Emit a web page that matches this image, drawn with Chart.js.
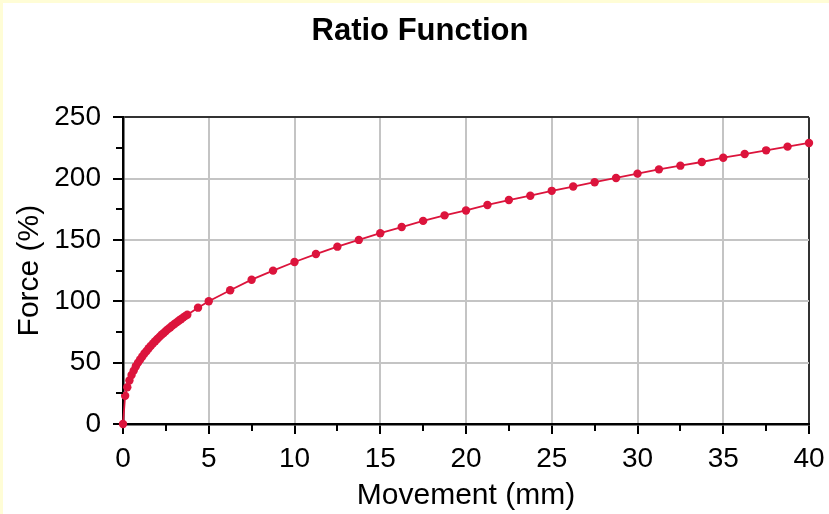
<!DOCTYPE html>
<html lang="en">
<head>
  <meta charset="UTF-8">
  <title>Ratio Function</title>
  <style>
    body {
      margin: 0;
      background: #fffdd6;
    }
    .chart-box {
      position: absolute;
      left: 3px;
      top: 3px;
      width: 826px;
      height: 511px;
      background: #ffffff;
    }
  </style>
</head>
<body>

<div class="chart-box">
  <canvas id="ratioChart"></canvas>
</div>

<script src="https://cdn.jsdelivr.net/npm/chart.js"></script>

<script>
  // Movement (mm) of each measured point
  var movement = [
    0, 0.125, 0.25, 0.375, 0.5, 0.625, 0.75, 0.875, 1, 1.125, 1.25, 1.375, 1.5,
    1.625, 1.75, 1.875, 2, 2.125, 2.25, 2.375, 2.5, 2.625, 2.75, 2.875, 3,
    3.125, 3.25, 3.375, 3.5, 3.625, 3.75, 4.375,
    5, 6.25, 7.5, 8.75, 10, 11.25, 12.5, 13.75, 15, 16.25, 17.5, 18.75, 20,
    21.25, 22.5, 23.75, 25, 26.25, 27.5, 28.75, 30, 31.25, 32.5, 33.75, 35,
    36.25, 37.5, 38.75, 40
  ];

  // Force (%) at each movement
  var force = [
    0, 23, 30, 35.5, 40, 43.5, 47, 50, 52.5, 55, 57.5, 59.5, 61.8,
    63.7, 65.7, 67.5, 69.3, 71, 72.7, 74.2, 75.8, 77.3, 78.7, 80.2, 81.5,
    82.8, 84.1, 85.4, 86.7, 87.9, 89.1, 94.8,
    100, 109, 117.6, 125, 132, 138.5, 144.5, 150, 155.5, 160.5, 165.5, 170, 174,
    178.5, 182.5, 186, 190, 193.5, 197, 200.5, 204, 207.5, 210.5, 213.5, 217,
    220, 223, 226, 229
  ];

  // Small unlabeled ticks between the labeled ones
  var xMinorTicks = [2.5, 7.5, 12.5, 17.5, 22.5, 27.5, 32.5, 37.5];
  var yMinorTicks = [25, 75, 125, 175, 225];

  var lineColor = '#dc143c';
  var fontFamily = '"Liberation Sans", Arial, sans-serif';

  var points = movement.map(function(m, i) {
    return { x: m, y: force[i] };
  });

  // short tick marks halfway between the major ticks
  var minorTickPlugin = {
    id: 'minorTicks',
    afterDraw: function(chart) {
      var ctx = chart.ctx;
      var x = chart.scales.x;
      var y = chart.scales.y;
      ctx.save();
      ctx.strokeStyle = '#000';
      ctx.lineWidth = 2;
      ctx.beginPath();
      xMinorTicks.forEach(function(v) {
        var px = Math.round(x.getPixelForValue(v));
        ctx.moveTo(px, x.top);
        ctx.lineTo(px, x.top + 7);
      });
      yMinorTicks.forEach(function(v) {
        var py = Math.round(y.getPixelForValue(v));
        ctx.moveTo(y.right, py);
        ctx.lineTo(y.right - 7, py);
      });
      ctx.stroke();
      ctx.restore();
    }
  };

  var ctx = document.getElementById('ratioChart').getContext('2d');
  var ratioChart = new Chart(ctx, {
    type: 'line',
    data: {
      datasets: [{
        label: 'Force',
        data: points,
        borderColor: lineColor,
        backgroundColor: lineColor,
        borderWidth: 1.8,
        pointRadius: 4.2,
        pointBorderWidth: 0,
        pointBackgroundColor: lineColor,
        clip: false,
        tension: 0
      }]
    },
    options: {
      responsive: true,
      maintainAspectRatio: false,
      animation: false,
      layout: {
        padding: { left: 28, right: 20, top: 0, bottom: 0 }
      },
      plugins: {
        legend: { display: false },
        tooltip: { enabled: false },
        title: {
          display: true,
          text: 'Ratio Function',
          color: '#000',
          font: { family: fontFamily, size: 31, weight: 'bold', lineHeight: 1.2 },
          padding: { top: 10, bottom: 67 }
        }
      },
      scales: {
        x: {
          type: 'linear',
          min: 0,
          max: 40,
          afterFit: function(scale) {
            scale.height = 90;
            // the "40" label may hang into the right margin
            scale.paddingLeft = 0;
            scale.paddingRight = 0;
          },
          ticks: {
            stepSize: 5,
            color: '#000',
            padding: 8,
            maxRotation: 0,
            font: { family: fontFamily, size: 28 }
          },
          grid: {
            color: function(c) { return c.tick && c.tick.value === 40 ? '#333' : '#c4c4c4'; },
            lineWidth: 2,
            tickColor: '#000',
            tickWidth: 2,
            tickLength: 10
          },
          border: { color: '#000', width: 2.5 },
          title: {
            display: true,
            text: 'Movement (mm)',
            color: '#000',
            font: { family: fontFamily, size: 30, lineHeight: 1.2 },
            padding: { top: 0, bottom: 0 }
          }
        },
        y: {
          min: 0,
          max: 250,
          afterFit: function(scale) { scale.width = 92; },
          ticks: {
            stepSize: 50,
            color: '#000',
            padding: 12,
            font: { family: fontFamily, size: 28 }
          },
          grid: {
            color: function(c) { return c.tick && c.tick.value === 250 ? '#333' : '#c4c4c4'; },
            lineWidth: 2,
            tickColor: '#000',
            tickWidth: 2,
            tickLength: 10
          },
          border: { color: '#000', width: 2.5 },
          title: {
            display: true,
            text: 'Force (%)',
            color: '#000',
            font: { family: fontFamily, size: 30, lineHeight: 1.2 },
            padding: { top: -19, bottom: 0 }
          }
        }
      }
    },
    plugins: [minorTickPlugin]
  });
</script>

</body>
</html>
